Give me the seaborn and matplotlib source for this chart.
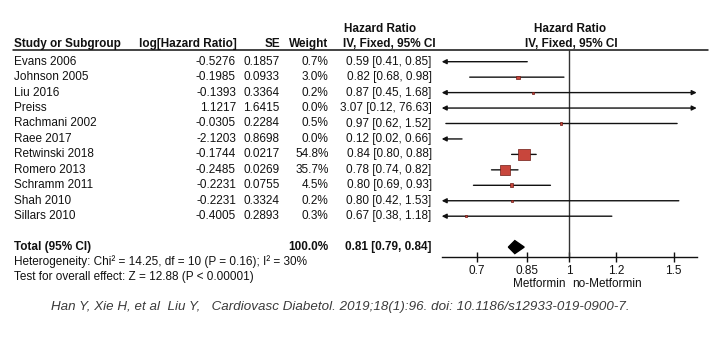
import numpy as np
import pandas as pd
import matplotlib
matplotlib.use("Agg")
import matplotlib.pyplot as plt
import seaborn as sns

# ---- study data ----
studies = ["Evans 2006", "Johnson 2005", "Liu 2016", "Preiss", "Rachmani 2002",
           "Raee 2017", "Retwinski 2018", "Romero 2013", "Schramm 2011",
           "Shah 2010", "Sillars 2010"]
log_hr = ["-0.5276", "-0.1985", "-0.1393", "1.1217", "-0.0305", "-2.1203",
          "-0.1744", "-0.2485", "-0.2231", "-0.2231", "-0.4005"]
se = ["0.1857", "0.0933", "0.3364", "1.6415", "0.2284", "0.8698",
      "0.0217", "0.0269", "0.0755", "0.3324", "0.2893"]
weight = [0.7, 3.0, 0.2, 0.0, 0.5, 0.0, 54.8, 35.7, 4.5, 0.2, 0.3]
hr = [0.59, 0.82, 0.87, 3.07, 0.97, 0.12, 0.84, 0.78, 0.80, 0.80, 0.67]
ci_low = [0.41, 0.68, 0.45, 0.12, 0.62, 0.02, 0.80, 0.74, 0.69, 0.42, 0.38]
ci_high = [0.85, 0.98, 1.68, 76.63, 1.52, 0.66, 0.88, 0.82, 0.93, 1.53, 1.18]

total_hr, total_low, total_high = 0.81, 0.79, 0.84
total_weight = "100.0%"
heterogeneity = "Heterogeneity: Chi² = 14.25, df = 10 (P = 0.16); I² = 30%"
overall = "Test for overall effect: Z = 12.88 (P < 0.00001)"

x_ticks = [0.7, 0.85, 1, 1.2, 1.5]
x_tick_labels = ["0.7", "0.85", "1", "1.2", "1.5"]
x_range = (0.61, 1.64)
favours = ("Metformin", "no-Metformin")
citation = ("Han Y, Xie H, et al  Liu Y,   Cardiovasc Diabetol. 2019;18(1):96. "
            "doi: 10.1186/s12933-019-0900-7.")

n = len(studies)
rows = np.arange(n)
total_row = n + 1

df = pd.DataFrame({"study": studies, "hr": hr, "low": ci_low, "high": ci_high,
                   "weight": weight, "row": rows})

sns.set_theme(style="white")
plt.rcParams["font.family"] = ["Liberation Sans", "DejaVu Sans"]
FS = 8.45
INK = "#111111"

W, H = 715, 339
fig = plt.figure(figsize=(W / 100, H / 100), dpi=100)

# row units <-> pixel mapping: row r sits at pixel 61.7 + 15.45 * r
y0, dy = 61.7, 15.45
def prow(p):
    return (p - y0) / dy

# overlay axes for the text table (x in pixels, y in rows)
tax = fig.add_axes([0, 0, 1, 1])
tax.set_xlim(0, W)
tax.set_ylim(prow(H), prow(0))
tax.axis("off")

# forest plot axes (log scale)
fx0, fx1 = 441.7, 696.7
fy_top, fy_bot = 50, 257.3
ax = fig.add_axes([fx0 / W, 1 - fy_bot / H, (fx1 - fx0) / W, (fy_bot - fy_top) / H])
ax.set_xscale("log")
ax.set_xlim(*x_range)
ax.set_ylim(prow(fy_bot), prow(fy_top))
ax.patch.set_alpha(0)
for s in ["left", "right", "top"]:
    ax.spines[s].set_visible(False)
ax.spines["bottom"].set_color(INK)
ax.spines["bottom"].set_linewidth(1.0)
ax.set_yticks([])
ax.set_xticks(x_ticks)
ax.set_xticklabels(x_tick_labels)
ax.xaxis.set_minor_locator(matplotlib.ticker.NullLocator())
ax.tick_params(axis="x", direction="inout", length=7, width=1.0, color=INK,
               labelsize=FS, labelcolor=INK, pad=2, bottom=True)

# line of no effect
ax.axvline(1, color="#333333", lw=1.0, zorder=1)

# confidence intervals with arrows where they run past the axis
for _, r in df.iterrows():
    lo, hi = r["low"], r["high"]
    l, h = max(lo, x_range[0]), min(hi, x_range[1])
    left, right = lo < x_range[0], hi > x_range[1]
    style = {(True, True): "<|-|>", (True, False): "<|-",
             (False, True): "-|>", (False, False): "-"}[(left, right)]
    ax.annotate("", xy=(h, r["row"]), xytext=(l, r["row"]),
                arrowprops=dict(arrowstyle=style, color=INK, lw=1.0,
                                mutation_scale=7, shrinkA=0, shrinkB=0),
                annotation_clip=False, zorder=2)

# study weights as squares (points outside the axis range stay hidden)
sns.scatterplot(data=df, x="hr", y="row", size="weight", sizes=(1.5, 70),
                size_norm=(0, 54.8), marker="s", color="#c8463c",
                edgecolor="#6e1a14", linewidth=0.5, legend=False, ax=ax,
                zorder=3, clip_on=True)
ax.set_xlabel("")
ax.set_ylabel("")

# pooled estimate diamond
dh = 0.42
ax.fill([total_low, total_hr, total_high, total_hr],
        [total_row, total_row - dh, total_row, total_row + dh],
        color="black", zorder=3)

# favours labels
ax.text(0.985, prow(284), favours[0], ha="right", va="center", fontsize=FS,
        color=INK)
ax.text(1.012, prow(284), favours[1], ha="left", va="center", fontsize=FS,
        color=INK)

# ---- text table ----
x_study, x_log, x_se, x_w, x_ci = 14, 236, 279.5, 328.5, 431.7
hdr_row = prow(44.3)
hdr_row2 = prow(29.3)
bold = dict(fontsize=FS, fontweight="bold", color=INK, va="center")
reg = dict(fontsize=FS, color=INK, va="center")

tax.text(x_study, hdr_row, "Study or Subgroup", ha="left", **bold)
tax.text(x_log + 1, hdr_row, "log[Hazard Ratio]", ha="right", **bold)
tax.text(x_se + 1, hdr_row, "SE", ha="right", **bold)
tax.text(x_w, hdr_row, "Weight", ha="right", **bold)
tax.text(344, hdr_row2, "Hazard Ratio", ha="left", **bold)
tax.text(343, hdr_row, "IV, Fixed, 95% CI", ha="left", **bold)
tax.text(570, hdr_row2, "Hazard Ratio", ha="center", **bold)
tax.text(571, hdr_row, "IV, Fixed, 95% CI", ha="center", **bold)
tax.plot([13, 708], [prow(50), prow(50)], color=INK, lw=1.1)

for i in range(n):
    tax.text(x_study, rows[i], studies[i], ha="left", **reg)
    tax.text(x_log, rows[i], log_hr[i], ha="right", **reg)
    tax.text(x_se, rows[i], se[i], ha="right", **reg)
    tax.text(x_w, rows[i], f"{weight[i]:.1f}%", ha="right", **reg)
    tax.text(x_ci, rows[i], f"{hr[i]:.2f} [{ci_low[i]:.2f}, {ci_high[i]:.2f}]",
             ha="right", **reg)

tax.text(x_study, total_row, "Total (95% CI)", ha="left", **bold)
tax.text(x_w, total_row, total_weight, ha="right", **bold)
tax.text(x_ci, total_row,
         f"{total_hr:.2f} [{total_low:.2f}, {total_high:.2f}]", ha="right", **bold)
tax.text(x_study, prow(261.7), heterogeneity, ha="left", **reg)
tax.text(x_study, prow(276.7), overall, ha="left", **reg)

# source line
fig.text(340 / W, 1 - 307 / H, citation, ha="center", va="center",
         fontsize=9.6, style="italic", color="#3a3a3a",
         family=["Liberation Sans", "DejaVu Sans"])

fig.savefig("out.png", dpi=100, facecolor="white")
